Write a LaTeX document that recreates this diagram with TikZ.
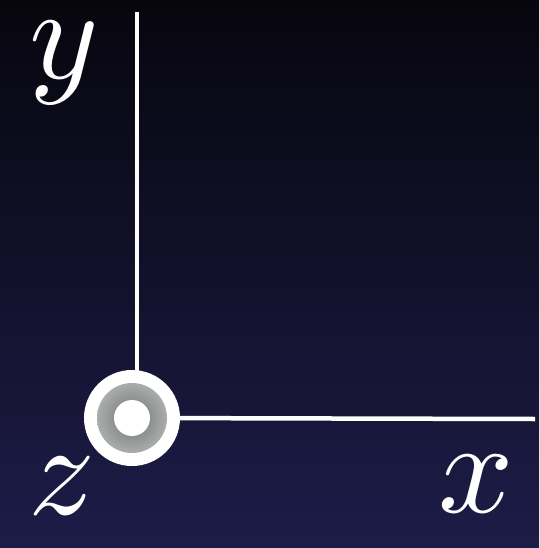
\documentclass[tikz,border=0pt]{standalone}
\usepackage{graphicx}
\definecolor{bgtop}{HTML}{07060E}
\definecolor{bgmid}{HTML}{0E0D24}
\definecolor{bgbot}{HTML}{1D1C48}
\definecolor{ringlight}{HTML}{A9ADAC}
\definecolor{ringdark}{HTML}{6E7272}
\tikzset{
  axisline/.style={white, line width=4.5pt},
  axlabel/.style={white, inner sep=0pt, anchor=base},
}
\newcommand{\biglabel}[1]{\scalebox{13.2}{$#1$}}
\begin{document}
\begin{tikzpicture}[x=1pt,y=-1pt]
  \shade[top color=bgtop, middle color=bgmid, bottom color=bgbot] (0,0) rectangle (539,548);
  \useasboundingbox (0,0) rectangle (539,548);
  \coordinate (ytop) at (137,12);
  \coordinate (xend) at (535,419);
  \coordinate (o) at (132,418);
  \draw[axisline] (ytop) -- (137,400);
  \draw[axisline] (o) -- (xend);
  \fill[white] (o) circle (48);
  \shade[inner color=ringdark, outer color=ringlight] (o) circle (35);
  \fill[white] (o) circle (18);
  \node[axlabel] (ly) at (64,79) {\biglabel{y}};
  \node[axlabel] (lz) at (62,514) {\biglabel{z}};
  \node[axlabel] (lx) at (476,512) {\biglabel{x}};
\end{tikzpicture}
\end{document}
